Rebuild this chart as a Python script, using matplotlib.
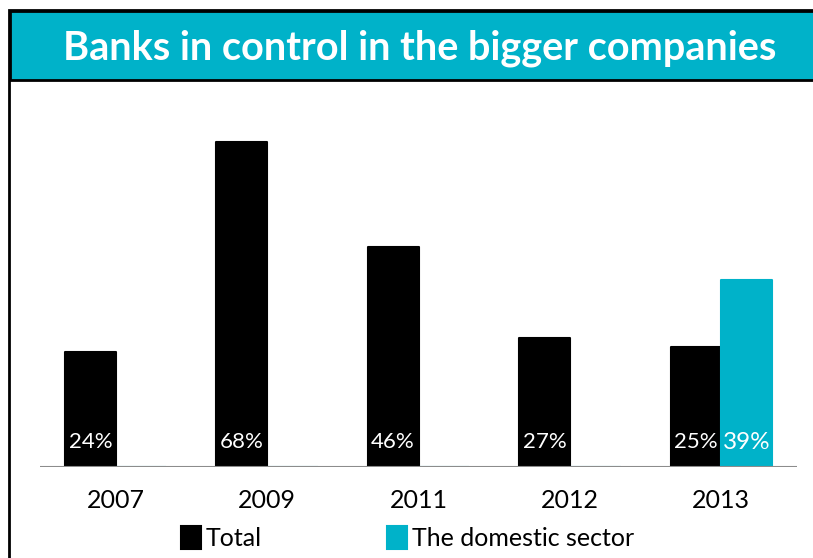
import matplotlib.pyplot as plt
from matplotlib.patches import Rectangle
import numpy as np

years = ["2007", "2009", "2011", "2012", "2013"]
total = [24, 68, 46, 27, 25]
domestic = [0, 0, 0, 0, 39]
title = "Banks in control in the bigger companies"

teal = "#00B2C9"
plt.rcParams['font.family'] = ['Lato', 'DejaVu Sans']

W, H = 813, 558
fig = plt.figure(figsize=(W / 100, H / 100), dpi=100)

def px(x, y):
    # pixel position (from top-left) to figure fraction
    return x / W, 1 - y / H

# frame and title banner
frame = Rectangle(px(9, 600), 900 / W, 590 / H, transform=fig.transFigure,
                  facecolor="none", edgecolor="black", lw=2, zorder=-1)
fig.patches.append(frame)
banner = Rectangle(px(10, 80), 900 / W, 69 / H, transform=fig.transFigure,
                   facecolor=teal, edgecolor="black", lw=2, zorder=-1)
fig.patches.append(banner)
fig.text(*px(420, 48), title, color="white", fontsize=28.5, fontweight="bold",
         ha="center", va="center")

ax = fig.add_axes([40 / W, 91 / H, 757 / W, 359 / H])
ax.set_xlim(-0.5, 4.5)
ax.set_ylim(0, 75)
x = np.arange(len(years))
w = 0.335

b1 = ax.bar(x - w / 2, total, w, color="black", edgecolor="black", lw=1.5,
            joinstyle="round", zorder=2, label="Total")
b2 = ax.bar(x + w / 2, domestic, w, color=teal, edgecolor=teal, lw=1.5,
            joinstyle="round", zorder=2, label="The domestic sector")

for rects, vals, fs in ((b1, total, 16), (b2, domestic, 17.5)):
    for r, v in zip(rects, vals):
        if v > 0:
            ax.text(r.get_x() + r.get_width() / 2, 5.2, f"{v}%", color="white",
                    fontsize=fs, ha="center", va="center", zorder=3)

ax.axhline(0, color="#8c8c8c", lw=1.5, zorder=4)
for s in ax.spines.values():
    s.set_visible(False)
ax.set_yticks([])
ax.set_xticks(x)
ax.set_xticklabels(years, fontsize=18)
ax.tick_params(axis="x", length=0, pad=16)
ax.patch.set_alpha(0)

leg = ax.legend(loc="center", bbox_to_anchor=(0.4855, -0.198), ncol=2,
                frameon=False, fontsize=18, handlelength=0.8, handleheight=1.0,
                handletextpad=0.2, columnspacing=5.0, borderaxespad=0)

fig.savefig("out.png", dpi=100)
